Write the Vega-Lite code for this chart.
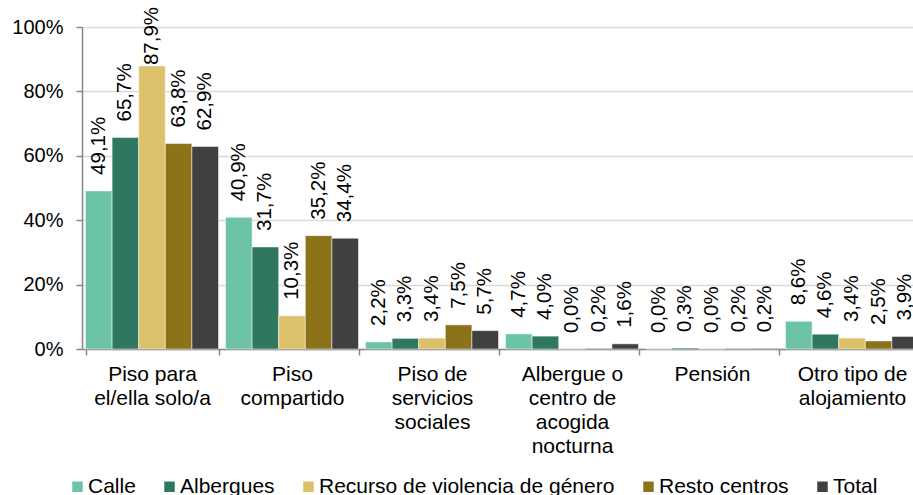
{
  "$schema": "https://vega.github.io/schema/vega-lite/v6.json",
  "width": 831,
  "height": 322,
  "autosize": "none",
  "padding": {"left": 82, "top": 27, "right": 0, "bottom": 146},
  "config": {
    "locale": {"number": {"decimal": ",", "thousands": ".", "grouping": [3], "currency": ["", " €"]}},
    "font": "Liberation Sans",
    "view": {"stroke": null}
  },
  "data": {
    "values": [
      {"categoria": "Piso para|el/ella solo/a", "grupo": "Calle", "valor": 0.491},
      {"categoria": "Piso para|el/ella solo/a", "grupo": "Albergues", "valor": 0.657},
      {"categoria": "Piso para|el/ella solo/a", "grupo": "Recurso de violencia de género", "valor": 0.879},
      {"categoria": "Piso para|el/ella solo/a", "grupo": "Resto centros", "valor": 0.638},
      {"categoria": "Piso para|el/ella solo/a", "grupo": "Total", "valor": 0.629},
      {"categoria": "Piso|compartido", "grupo": "Calle", "valor": 0.409},
      {"categoria": "Piso|compartido", "grupo": "Albergues", "valor": 0.317},
      {"categoria": "Piso|compartido", "grupo": "Recurso de violencia de género", "valor": 0.103},
      {"categoria": "Piso|compartido", "grupo": "Resto centros", "valor": 0.352},
      {"categoria": "Piso|compartido", "grupo": "Total", "valor": 0.344},
      {"categoria": "Piso de|servicios|sociales", "grupo": "Calle", "valor": 0.022},
      {"categoria": "Piso de|servicios|sociales", "grupo": "Albergues", "valor": 0.033},
      {"categoria": "Piso de|servicios|sociales", "grupo": "Recurso de violencia de género", "valor": 0.034},
      {"categoria": "Piso de|servicios|sociales", "grupo": "Resto centros", "valor": 0.075},
      {"categoria": "Piso de|servicios|sociales", "grupo": "Total", "valor": 0.057},
      {"categoria": "Albergue o|centro de|acogida|nocturna", "grupo": "Calle", "valor": 0.047},
      {"categoria": "Albergue o|centro de|acogida|nocturna", "grupo": "Albergues", "valor": 0.040},
      {"categoria": "Albergue o|centro de|acogida|nocturna", "grupo": "Recurso de violencia de género", "valor": 0.0},
      {"categoria": "Albergue o|centro de|acogida|nocturna", "grupo": "Resto centros", "valor": 0.002},
      {"categoria": "Albergue o|centro de|acogida|nocturna", "grupo": "Total", "valor": 0.016},
      {"categoria": "Pensión", "grupo": "Calle", "valor": 0.0},
      {"categoria": "Pensión", "grupo": "Albergues", "valor": 0.003},
      {"categoria": "Pensión", "grupo": "Recurso de violencia de género", "valor": 0.0},
      {"categoria": "Pensión", "grupo": "Resto centros", "valor": 0.002},
      {"categoria": "Pensión", "grupo": "Total", "valor": 0.002},
      {"categoria": "Otro tipo de|alojamiento", "grupo": "Calle", "valor": 0.086},
      {"categoria": "Otro tipo de|alojamiento", "grupo": "Albergues", "valor": 0.046},
      {"categoria": "Otro tipo de|alojamiento", "grupo": "Recurso de violencia de género", "valor": 0.034},
      {"categoria": "Otro tipo de|alojamiento", "grupo": "Resto centros", "valor": 0.025},
      {"categoria": "Otro tipo de|alojamiento", "grupo": "Total", "valor": 0.039}
    ]
  },
  "layer": [
    {
      "mark": {"type": "bar", "stroke": "white", "strokeWidth": 0.5},
      "encoding": {
        "x": {
          "field": "categoria", "type": "nominal", "sort": null,
          "scale": {"range": [0, 840], "paddingInner": 0.05, "paddingOuter": 0.025},
          "axis": {
            "title": null, "labelAngle": 0, "tickBand": "extent",
            "labelExpr": "isValid(datum.value) ? split(datum.value, '|') : ''",
            "labelFontSize": 21, "labelLineHeight": 24, "labelPadding": 8,
            "labelColor": "#000000", "labelLimit": 0,
            "tickSize": 6, "tickColor": "#888888", "domainColor": "#888888", "domainWidth": 1.5, "tickWidth": 1.5,
            "grid": false
          }
        },
        "xOffset": {
          "field": "grupo", "type": "nominal",
          "sort": ["Calle", "Albergues", "Recurso de violencia de género", "Resto centros", "Total"],
          "scale": {"paddingInner": 0, "paddingOuter": 0}
        },
        "y": {
          "field": "valor", "type": "quantitative",
          "scale": {"domain": [0, 1]},
          "axis": {
            "title": null, "format": ".0%", "values": [0, 0.2, 0.4, 0.6, 0.8, 1],
            "labelFontSize": 20, "labelColor": "#000000", "labelPadding": 13,
            "tickSize": 6, "tickColor": "#888888", "tickWidth": 1.5,
            "domainColor": "#888888", "domainWidth": 1.5,
            "gridColor": "#d9d9d9", "gridWidth": 1.5
          }
        },
        "color": {
          "field": "grupo", "type": "nominal",
          "scale": {
            "domain": ["Calle", "Albergues", "Recurso de violencia de género", "Resto centros", "Total"],
            "range": ["#6cc4a4", "#2f7761", "#ddc06a", "#8c7319", "#404040"]
          },
          "legend": {
            "orient": "none", "legendX": -15, "legendY": 449,
            "direction": "horizontal", "title": null,
            "symbolType": "square", "symbolSize": 110, "symbolStrokeWidth": 0,
            "labelFontSize": 21, "labelColor": "#000000", "labelOffset": 0,
            "columnPadding": 23, "padding": 0, "labelLimit": 0
          }
        }
      }
    },
    {
      "mark": {"type": "text", "angle": 270, "align": "left", "baseline": "middle", "dx": 16, "fontSize": 20.5, "color": "#000000"},
      "encoding": {
        "x": {"field": "categoria", "type": "nominal", "sort": null},
        "xOffset": {
          "field": "grupo", "type": "nominal",
          "sort": ["Calle", "Albergues", "Recurso de violencia de género", "Resto centros", "Total"]
        },
        "y": {
          "field": "valor", "type": "quantitative",
          "scale": {"domain": [0, 0.832], "range": [322, 54.1], "clamp": true},
          "axis": null
        },
        "text": {"field": "valor", "type": "quantitative", "format": ".1%"}
      }
    }
  ],
  "resolve": {"scale": {"y": "independent"}}
}
